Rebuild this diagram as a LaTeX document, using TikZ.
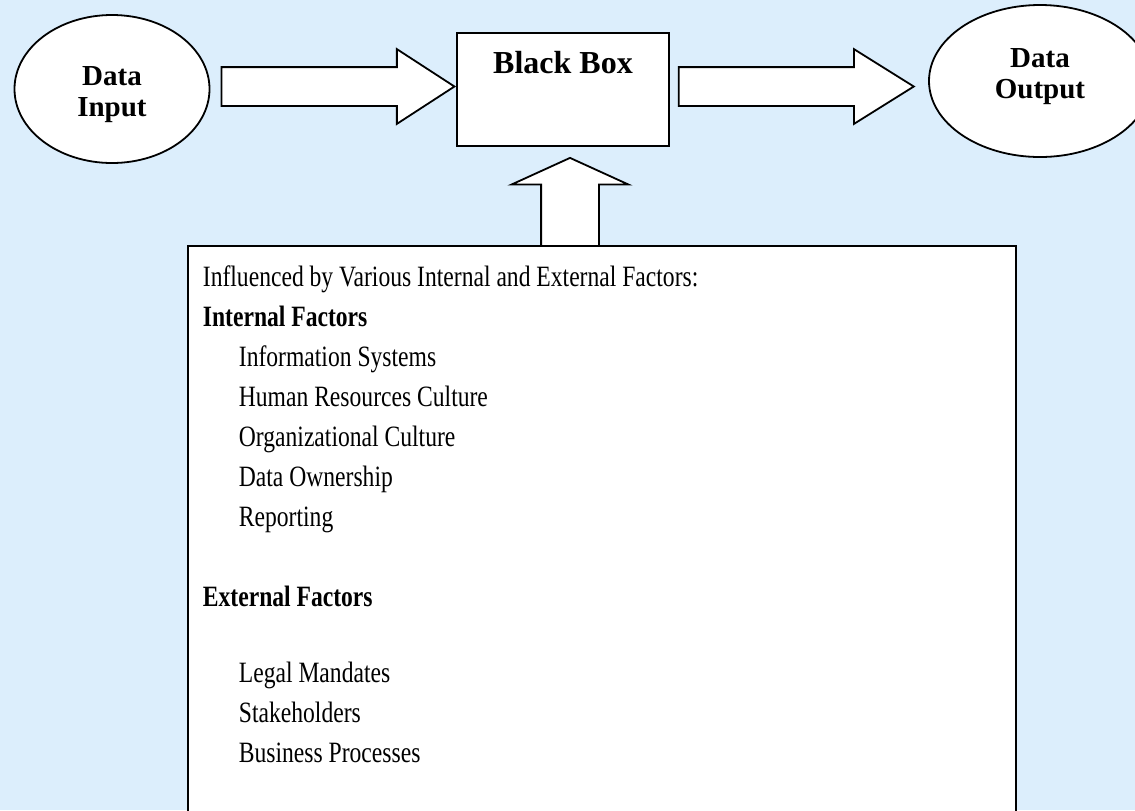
\documentclass[tikz,border=0pt]{standalone}
\usepackage{fontspec}
\setmainfont{Liberation Serif}
\newfontfamily\narrowserif{Liberation Serif}[FakeStretch=0.80]
\usetikzlibrary{shapes.geometric,shapes.arrows}

\definecolor{bgblue}{RGB}{220,238,252}

\tikzset{
  outline/.style={draw=black, line width=0.9pt, fill=white},
  datanode/.style={outline, ellipse, inner sep=0pt, align=center,
    font=\bfseries\fontsize{14.5pt}{15.5pt}\selectfont},
  blockarrow/.style={outline, single arrow, inner xsep=0pt}
}

\begin{document}
\begin{tikzpicture}[x=0.5pt, y=-0.5pt]

  % Fondo
  \useasboundingbox (0,0) rectangle (1135,810);
  \clip (0,0) rectangle (1135,810);
  \fill[bgblue] (0,0) rectangle (1135,810);

  % Entrada y salida de datos
  \node[datanode, minimum width=97.5pt, minimum height=74pt]
    (input) at (112,89) {\rule{0pt}{14.6pt}Data\\Input};

  \node[datanode, minimum width=111pt, minimum height=76pt]
    (output) at (1040,81) {Data\\Output\rule[-8pt]{0pt}{0pt}};

  % Caja negra
  \node[
    outline,
    inner sep=0pt,
    minimum width=106pt,
    text height=20pt,
    text depth=36.5pt,
    font=\bfseries\fontsize{16pt}{18pt}\selectfont
  ] (bbox) at (563,89.5) {Black Box};

  % Flechas horizontales
  \node[
    blockarrow,
    inner ysep=9.25pt,
    minimum height=116.5pt,
    single arrow head extend=9pt,
    single arrow tip angle=66,
    anchor=tip
  ] (inarrow) at ([yshift=1.5pt]bbox.west) {};

  \node[
    blockarrow,
    inner ysep=9.25pt,
    minimum height=117.5pt,
    single arrow head extend=9pt,
    single arrow tip angle=64,
    anchor=tail
  ] (outarrow) at ([xshift=4pt,yshift=1.5pt]bbox.east) {};

  % Flecha hacia arriba
  \node[
    blockarrow,
    rotate=90,
    inner ysep=14pt,
    minimum height=44.5pt,
    single arrow head extend=14.75pt,
    single arrow tip angle=131,
    anchor=tip
  ] (uparrow) at ([xshift=3.5pt,yshift=-5pt]bbox.south) {};

  % Factores
  \node[
    outline,
    anchor=north west,
    inner xsep=7.5pt,
    inner ysep=0pt,
    text width=399pt,
    align=flush left,
    font=\narrowserif\fontsize{14.75pt}{20pt}\selectfont
  ] (factors) at (187,245) {%
    \rule{0pt}{20.5pt}Influenced by Various Internal and External Factors:\\
    \textbf{Internal Factors}\\
    \hspace*{18pt}Information Systems\\
    \hspace*{18pt}Human Resources Culture\\
    \hspace*{18pt}Organizational Culture\\
    \hspace*{18pt}Data Ownership\\
    \hspace*{18pt}Reporting\\[20pt]
    \textbf{External Factors}\\[18pt]
    \hspace*{18pt}Legal Mandates\\
    \hspace*{18pt}Stakeholders\\
    \hspace*{18pt}Business Processes\\[10pt]
    \mbox{}};

\end{tikzpicture}
\end{document}
